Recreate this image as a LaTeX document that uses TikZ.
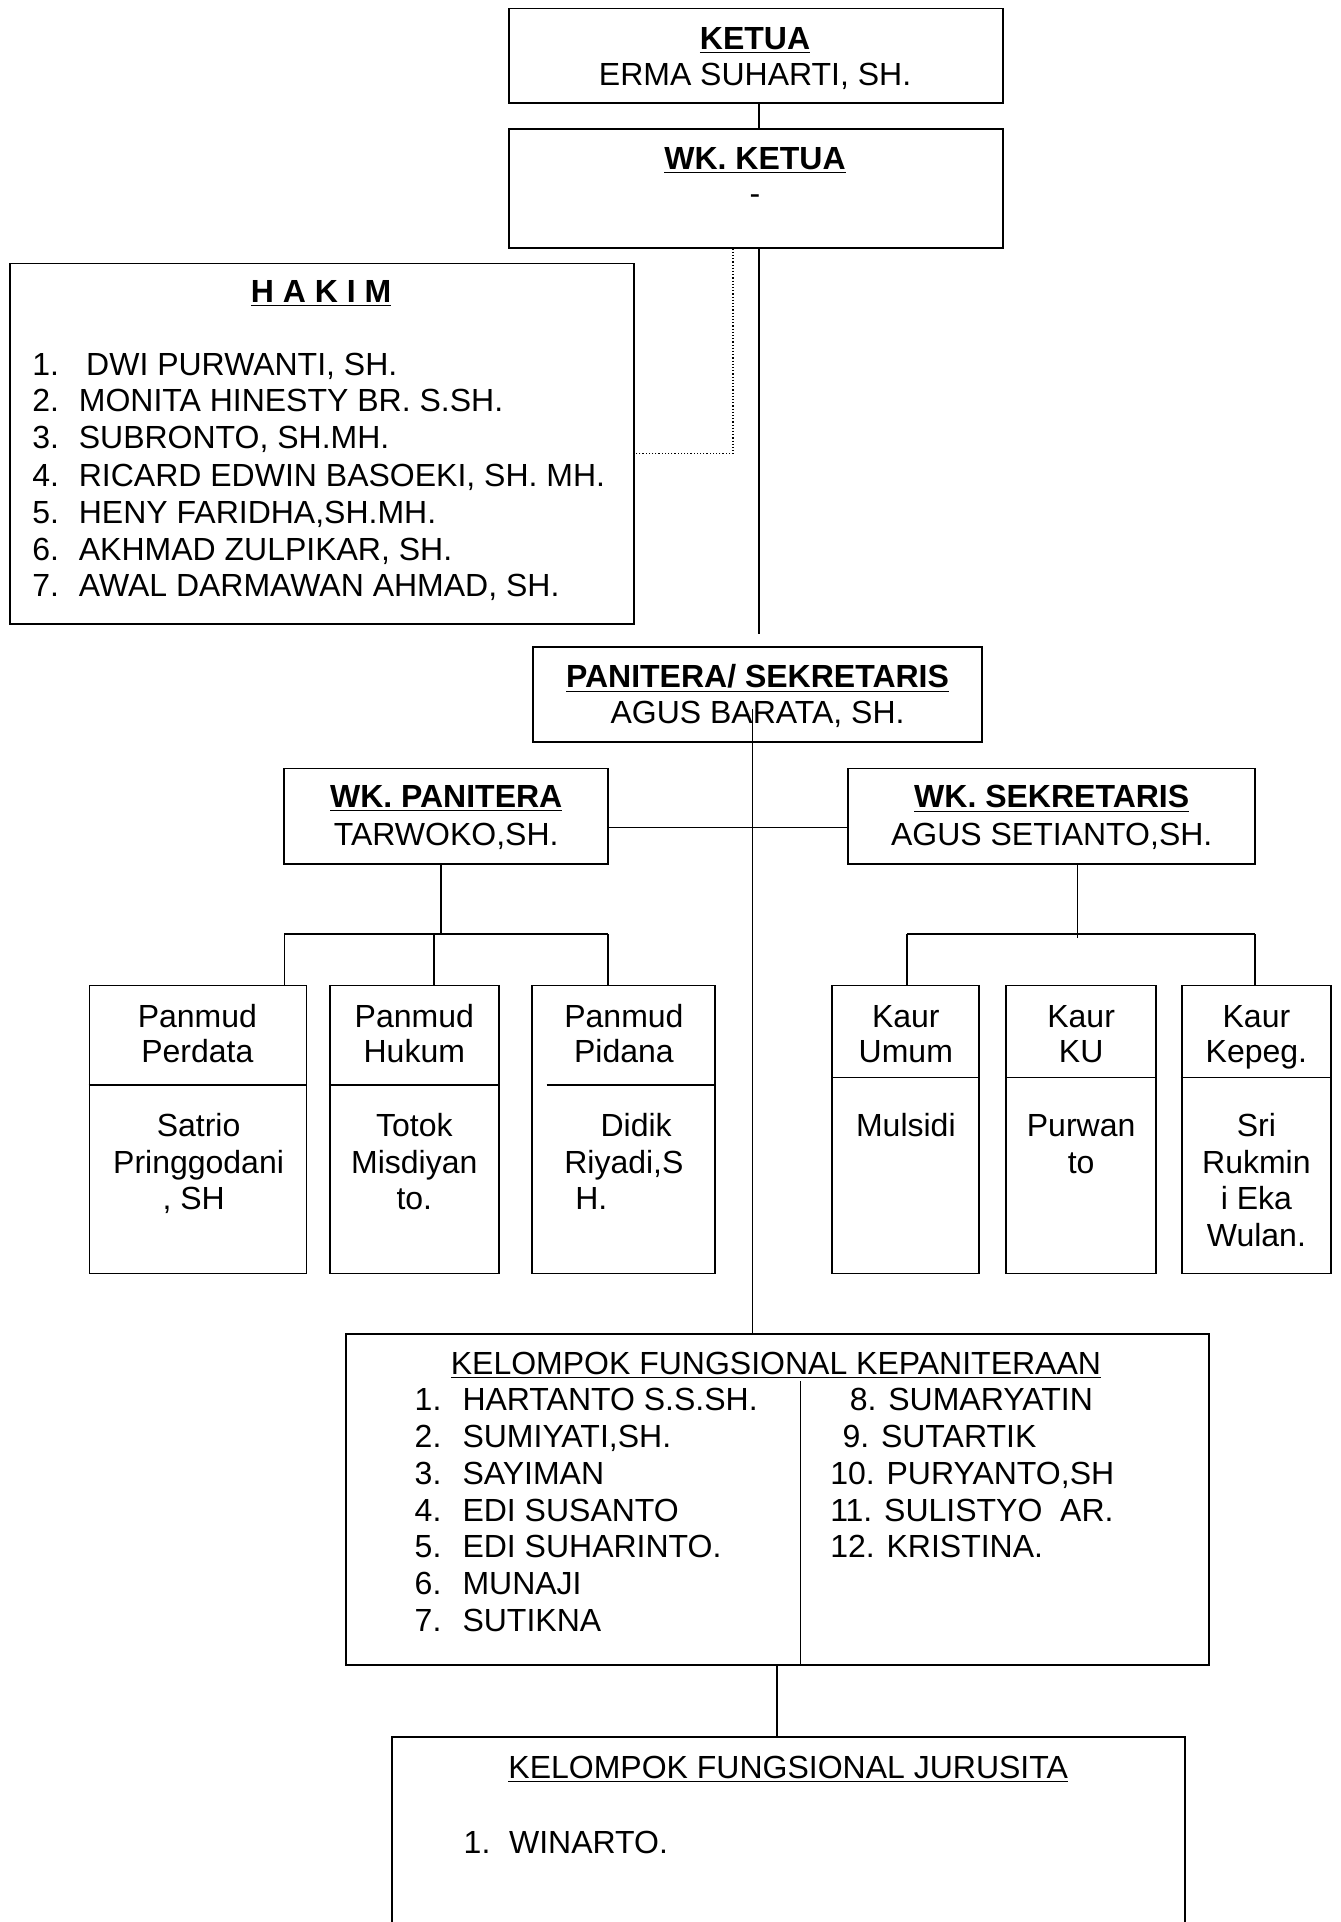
\documentclass[tikz,border=0pt]{standalone}
\usepackage{fontspec}
\setmainfont{Liberation Sans}
\usetikzlibrary{fit}
\begin{document}
\begin{tikzpicture}[x=0.6129pt,y=-0.6129pt,
  box/.style={draw,line width=0.9pt,inner sep=0pt},
  conn/.style={line width=0.8pt},
  dotconn/.style={line width=0.6pt,densely dotted},
  t/.style={inner sep=0pt,anchor=base,font=\fontsize{16}{18.4}\selectfont},
  tl/.style={t,anchor=base west}]
\clip (0,0) rectangle (1094,1568);
% boxes
\node[box,fit={(415,7)(818,84)}] (ketua) {};
\node[box,fit={(415,105)(818,202)}] (wkketua) {};
\node[box,fit={(8,215)(517,509)}] (hakim) {};
\node[box,fit={(435,528)(801,605)}] (panitera) {};
\node[box,fit={(232,627)(496,705)}] (wkpan) {};
\node[box,fit={(692,627)(1024,705)}] (wksek) {};
\node[box,fit={(73,804)(250,1039)}] (perdata) {};
\node[box,fit={(269,804)(407,1039)}] (hukum) {};
\node[box,fit={(434,804)(583,1039)}] (pidana) {};
\node[box,fit={(679,804)(799,1039)}] (umum) {};
\node[box,fit={(821,804)(943,1039)}] (ku) {};
\node[box,fit={(964,804)(1086,1039)}] (kepeg) {};
\node[box,fit={(282,1088)(986,1358)}] (kfk) {};
\node[box,fit={(320,1417)(967,1590)}] (jur) {};
% dividers
\coordinate (dp) at (0,885);
\draw[box] (perdata.west |- dp) -- (perdata.east |- dp);
\draw[box] (hukum.west |- dp) -- (hukum.east |- dp);
\coordinate (dpi) at (446,885);
\draw[box] (dpi) -- (pidana.east |- dpi);
\coordinate (dk) at (0,879);
\draw[box] (umum.west |- dk) -- (umum.east |- dk);
\draw[box] (ku.west |- dk) -- (ku.east |- dk);
\draw[box] (kepeg.west |- dk) -- (kepeg.east |- dk);
\coordinate (kd) at (653,1127);
\draw[conn] (kd) -- (kd |- kfk.south);
% connectors
\coordinate (c0) at (619,0);
\draw[conn] (ketua.south -| c0) -- (wkketua.north -| c0);
\coordinate (c1) at (619,517);
\draw[conn] (wkketua.south -| c1) -- (c1);
\coordinate (d1) at (598,370);
\draw[dotconn] (wkketua.south -| d1) -- (d1) -- (d1 -| hakim.east);
\coordinate (c2) at (614,578);
\draw[conn] (c2) -- (c2 |- kfk.north);
\coordinate (h1) at (0,675);
\draw[conn] (wkpan.east |- h1) -- (wksek.west |- h1);
\coordinate (lj) at (360,762);
\draw[conn] (wkpan.south -| lj) -- (lj);
\coordinate (lb1) at (232,762);
\coordinate (lb2) at (354,762);
\coordinate (lb3) at (496,762);
\draw[conn] (lb1) -- (lb3);
\draw[conn] (lb1) -- (lb1 |- perdata.north);
\draw[conn] (lb2) -- (lb2 |- hukum.north);
\draw[conn] (lb3) -- (lb3 |- pidana.north);
\coordinate (rj) at (879,765);
\draw[conn] (wksek.south -| rj) -- (rj);
\coordinate (rb1) at (740,762);
\coordinate (rb2) at (1024,762);
\draw[conn] (rb1) -- (rb2);
\draw[conn] (rb1) -- (rb1 |- umum.north);
\draw[conn] (rb2) -- (rb2 |- kepeg.north);
\coordinate (kj) at (634,0);
\draw[conn] (kfk.south -| kj) -- (jur.north -| kj);
% texts
\node[t] (t1) at (616,40) {\textbf{\underline{KETUA}}};
\node[t] (t2) at (616,70) {ERMA SUHARTI, SH.};
\node[t] (t3) at (616,138) {\textbf{\underline{WK. KETUA}}};
\node[t] (t4) at (616,167) {-};
\node[t] (t5) at (262,247) {\textbf{\underline{H A K I M}}};
\foreach \n/\s/\yy/\xx in {1/DWI PURWANTI{,} SH./306/70, 2/MONITA HINESTY BR. S.SH./336/64, 3/SUBRONTO{,} SH.MH./366/64, 4/RICARD EDWIN BASOEKI{,} SH. MH./397/64, 5/HENY FARIDHA{,}SH.MH./427/64, 6/AKHMAD ZULPIKAR{,} SH./457/64, 7/AWAL DARMAWAN AHMAD{,} SH./487/64}{
  \node[tl] (hn\n) at (26,\yy) {\n.};
  \node[tl] (hs\n) at (\xx,\yy) {\s};
}
\node[t] (t6) at (618,561) {\textbf{\underline{PANITERA/ SEKRETARIS}}};
\node[t] (t7) at (618,590) {AGUS BARATA, SH.};
\node[t] (t8) at (364,659) {\textbf{\underline{WK. PANITERA}}};
\node[t] (t9) at (364,690) {TARWOKO,SH.};
\node[t] (t10) at (858,659) {\textbf{\underline{WK. SEKRETARIS}}};
\node[t] (t11) at (858,690) {AGUS SETIANTO,SH.};
% panmud
\node[t] (p1a) at (161,838) {Panmud};
\node[t] (p1b) at (161,867) {Perdata};
\node[t] (p1c) at (162,927) {Satrio};
\node[t] (p1d) at (162,957) {Pringgodani};
\node[t] (p1e) at (158,987) {, SH};
\node[t] (p2a) at (338,838) {Panmud};
\node[t] (p2b) at (338,867) {Hukum};
\node[t] (p2c) at (338,927) {Totok};
\node[t] (p2d) at (338,957) {Misdiyan};
\node[t] (p2e) at (338,987) {to.};
\node[t] (p3a) at (509,838) {Panmud};
\node[t] (p3b) at (509,867) {Pidana};
\node[t] (p3c) at (519,927) {Didik};
\node[t] (p3d) at (509,957) {Riyadi,S};
\node[tl] (p3e) at (469,987) {H.};
% kaur
\node[t] (k1a) at (739,838) {Kaur};
\node[t] (k1b) at (739,867) {Umum};
\node[t] (k1c) at (739,927) {Mulsidi};
\node[t] (k2a) at (882,838) {Kaur};
\node[t] (k2b) at (882,867) {KU};
\node[t] (k2c) at (882,927) {Purwan};
\node[t] (k2d) at (882,957) {to};
\node[t] (k3a) at (1025,838) {Kaur};
\node[t] (k3b) at (1025,867) {Kepeg.};
\node[t] (k3c) at (1025,927) {Sri};
\node[t] (k3d) at (1025,957) {Rukmin};
\node[t] (k3e) at (1025,987) {i Eka};
\node[t] (k3f) at (1025,1017) {Wulan.};
% kelompok kepaniteraan
\node[t] (kt) at (633,1121) {\underline{KELOMPOK FUNGSIONAL KEPANITERAAN}};
\foreach \n/\s/\yy in {1/HARTANTO S.S.SH./1151, 2/SUMIYATI{,}SH./1181, 3/SAYIMAN/1211, 4/EDI SUSANTO/1241, 5/EDI SUHARINTO./1271, 6/MUNAJI/1301, 7/SUTIKNA/1331}{
  \node[tl] (kn\n) at (338,\yy) {\n.};
  \node[tl] (ks\n) at (377,\yy) {\s};
}
\node[tl] (kr8) at (693,1151) {8. SUMARYATIN};
\node[tl] (kr9) at (687,1181) {9. SUTARTIK};
\node[tl] (kr10) at (677,1211) {10. PURYANTO,SH};
\node[tl] (kr11) at (677,1241) {11. SULISTYO\ \ AR.};
\node[tl] (kr12) at (677,1271) {12. KRISTINA.};
% jurusita
\node[t] (jt) at (643,1451) {\underline{KELOMPOK FUNGSIONAL JURUSITA}};
\node[tl] (jn1) at (378,1512) {1.};
\node[tl] (js1) at (415,1512) {WINARTO.};
\end{tikzpicture}
\end{document}
